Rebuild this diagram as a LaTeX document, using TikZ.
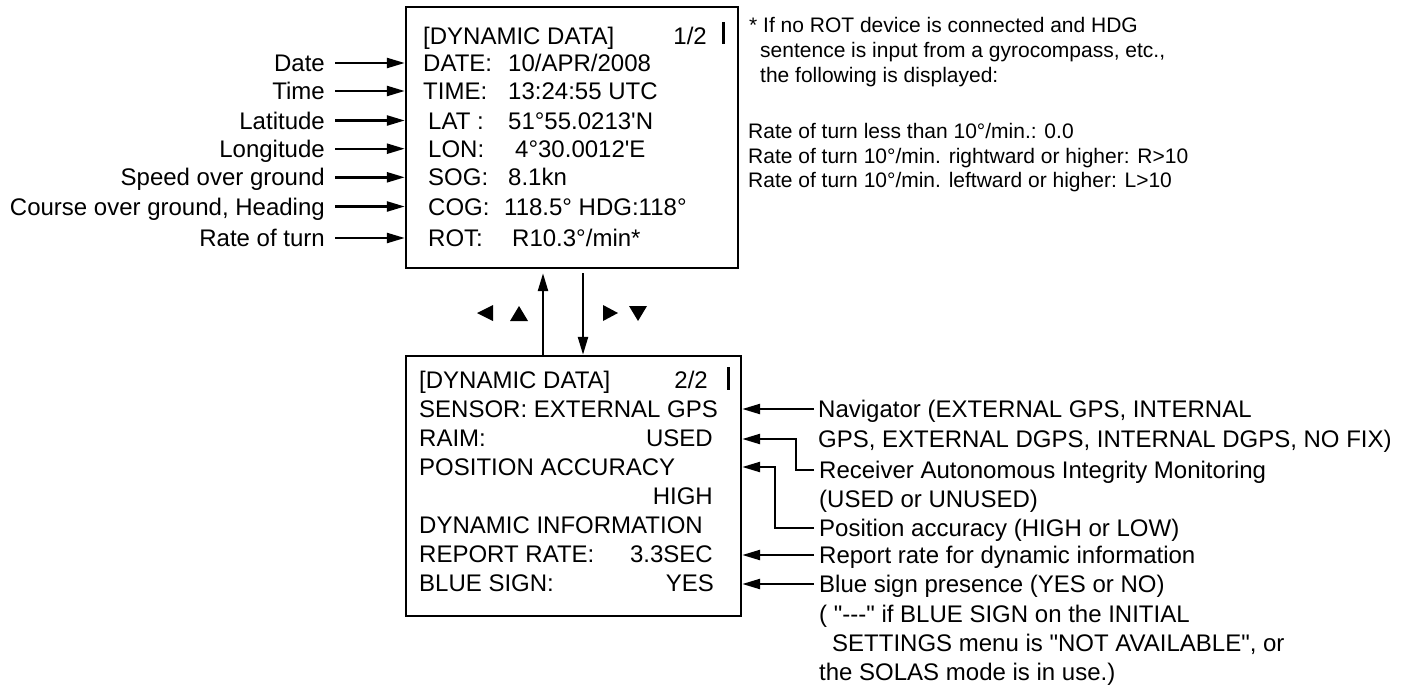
\documentclass[tikz,border=0pt]{standalone}
\usepackage{fontspec}
\newfontfamily\af{Liberation Sans}
\usetikzlibrary{arrows.meta}
\begin{document}
\begin{tikzpicture}[x=1pt,y=-1pt,
  txt/.style={inner sep=0pt, anchor=west, font=\af\fontsize{24pt}{29pt}\selectfont, text height=17.2pt, text depth=0pt},
  txtr/.style={txt, anchor=east},
  note/.style={inner sep=0pt, anchor=west, font=\af\fontsize{21pt}{25pt}\selectfont, text height=15pt, text depth=0pt},
  screen/.style={draw, line width=2.4pt, inner sep=0pt},
  arr/.style={line width=2.4pt, -{Triangle[length=18pt,width=10pt]}},
  tri/.style={fill=black, draw=none},
  bar/.style={fill=black, draw=none}
]
\useasboundingbox (0,0) rectangle (1411,686);

% ---- boxes
\node[screen, minimum width=332pt, minimum height=261pt] (top) at (572,137.5) {};
\node[screen, minimum width=335pt, minimum height=260pt] (bot) at (573.5,486) {};

% ---- top box text
\node[txt] (tTitle) at (423,35.7) {[DYNAMIC DATA]};
\node[txtr] (tPage) at (707,35.7) {1/2};
\fill[bar] (721.5,21.5) rectangle (725,44);
\node[txt] (tDateL) at (423,63) {DATE:};
\node[txt] (tDateV) at (508,63) {10/APR/2008};
\node[txt] (tTimeL) at (423,91) {TIME:};
\node[txt] (tTimeV) at (508,91) {13:24:55 UTC};
\node[txt] (tLatL) at (428,120.5) {LAT :};
\node[txt] (tLatV) at (508,120.5) {51°55.0213'N};
\node[txt] (tLonL) at (428,148.7) {LON:};
\node[txt] (tLonV) at (515,148.7) {4°30.0012'E};
\node[txt] (tSogL) at (428,177.3) {SOG:};
\node[txt] (tSogV) at (508,177.3) {8.1kn};
\node[txt] (tCogL) at (428,206.5) {COG:};
\node[txt] (tCogV) at (504,206.5) {118.5° HDG:118°};
\node[txt] (tRotL) at (428,238) {ROT:};
\node[txt] (tRotV) at (512,238) {R10.3°/min*};

% ---- left labels
\node[txtr] (lDate) at (325,63) {Date};
\node[txtr] (lTime) at (325,91) {Time};
\node[txtr] (lLat) at (325,120.5) {Latitude};
\node[txtr] (lLon) at (325,148.7) {Longitude};
\node[txtr] (lSog) at (325,177.3) {Speed over ground};
\node[txtr] (lCog) at (325,206.5) {Course over ground, Heading};
\node[txtr] (lRot) at (325,238) {Rate of turn};
\foreach \n in {lDate,lTime,lLat,lLon,lSog,lCog,lRot}
  \draw[arr] ([xshift=10pt]\n.east) -- (\n.east -| top.west);

% ---- note
\node[note] (n1) at (749,25) {* If no ROT device is connected and HDG};
\node[note] (n2) at (760,50) {sentence is input from a gyrocompass, etc.,};
\node[note] (n3) at (760,75) {the following is displayed:};
\node[note] (n4) at (748,131) {Rate of turn less than 10°/min.: 0.0};
\node[note] (n5) at (748,155.5) {Rate of turn 10°/min. rightward or higher: R>10};
\node[note] (n6) at (748,180) {Rate of turn 10°/min. leftward or higher: L>10};

% ---- page arrows
\coordinate (ux) at (543,0);
\coordinate (dx) at (583,0);
\draw[arr, shorten >=4pt] (bot.north -| ux) -- (top.south -| ux);
\draw[arr, shorten <=4pt] (top.south -| dx) -- (bot.north -| dx);
\fill[tri] (477,313) -- (493,305) -- (493,321) -- cycle;
\fill[tri] (510,321) -- (528,321) -- (519,306) -- cycle;
\fill[tri] (618,313) -- (603,305) -- (603,321) -- cycle;
\fill[tri] (629,306) -- (647,306) -- (638,321) -- cycle;

% ---- bottom box text
\node[txt] (bTitle) at (419,380) {[DYNAMIC DATA]};
\node[txtr] (bPage) at (708,380) {2/2};
\fill[bar] (726.5,367) rectangle (730,390);
\node[txt] (bSensor) at (419,409) {SENSOR: EXTERNAL GPS};
\node[txt] (bRaimL) at (419,438) {RAIM:};
\node[txtr] (bRaimV) at (713,438) {USED};
\node[txt] (bPos) at (419,467) {POSITION ACCURACY};
\node[txtr] (bHigh) at (713,496) {HIGH};
\node[txt] (bDyn) at (419,525) {DYNAMIC INFORMATION};
\node[txt] (bRepL) at (419,554) {REPORT RATE:};
\node[txtr] (bRepV) at (713,554) {3.3SEC};
\node[txt] (bBlueL) at (419,583) {BLUE SIGN:};
\node[txtr] (bBlueV) at (714,583) {YES};

% ---- right labels
\node[txt] (rNav) at (818,409) {Navigator (EXTERNAL GPS, INTERNAL};
\node[txt] (rNav2) at (818,439) {GPS, EXTERNAL DGPS, INTERNAL DGPS, NO FIX)};
\node[txt] (rRaim) at (819,470) {Receiver Autonomous Integrity Monitoring};
\node[txt] (rRaim2) at (819,499) {(USED or UNUSED)};
\node[txt] (rPos) at (819,528) {Position accuracy (HIGH or LOW)};
\node[txt] (rRep) at (819,555) {Report rate for dynamic information};
\node[txt] (rBlue) at (819,584) {Blue sign presence (YES or NO)};
\node[txt] (rBlue2) at (819,614) {( "---" if BLUE SIGN on the INITIAL};
\node[txt] (rBlue3) at (832,643) {SETTINGS menu is "NOT AVAILABLE", or};
\node[txt] (rBlue4) at (819,672) {the SOLAS mode is in use.)};

\draw[arr] ([xshift=-4pt]rNav.west) -- (rNav.west -| bot.east);
\draw[arr] ([xshift=-5pt]rRaim.west) -- ++(-18,0) |- (bot.east |- rNav2);
\draw[arr] ([xshift=-5pt]rPos.west) -- ++(-39,0) |- (bot.east |- bPos);
\draw[arr] ([xshift=-5pt]rRep.west) -- (rRep.west -| bot.east);
\draw[arr] ([xshift=-5pt]rBlue.west) -- (rBlue.west -| bot.east);
\end{tikzpicture}
\end{document}
